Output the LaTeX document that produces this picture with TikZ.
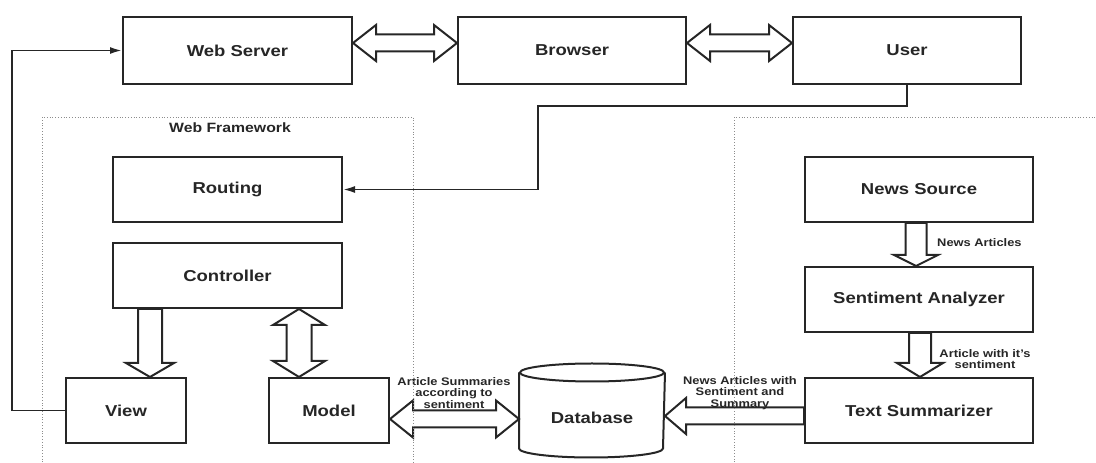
\documentclass[tikz,border=0pt]{standalone}
\usepackage{fontspec}
\setmainfont{Liberation Sans}[FakeStretch=1.17]
\usetikzlibrary{calc, arrows.meta}

% hollow block arrows between two points: shaft half width, head half width, head length
\newcommand{\fatarrow}[5]{%
  \draw[blockarrow] let \p1=#1, \p2=#2,
      \n1={veclen(\x2-\x1,\y2-\y1)}, \n2={atan2(\y2-\y1,\x2-\x1)} in
    [shift={(\p1)}, rotate=\n2]
    (0,#3) -- ({\n1-#5},#3) -- ({\n1-#5},#4) -- (\n1,0)
    -- ({\n1-#5},-#4) -- ({\n1-#5},-#3) -- (0,-#3) -- cycle;}
\newcommand{\fatarrows}[5]{%
  \draw[blockarrow] let \p1=#1, \p2=#2,
      \n1={veclen(\x2-\x1,\y2-\y1)}, \n2={atan2(\y2-\y1,\x2-\x1)} in
    [shift={(\p1)}, rotate=\n2]
    (0,0) -- (#5,#4) -- (#5,#3) -- ({\n1-#5},#3) -- ({\n1-#5},#4) -- (\n1,0)
    -- ({\n1-#5},-#4) -- ({\n1-#5},-#3) -- (#5,-#3) -- (#5,-#4) -- cycle;}

\tikzset{
  box/.style={draw=black!85, line width=2pt, minimum width=229pt, minimum height=65pt,
    inner sep=0pt, text=black!85, font=\fontsize{15.8}{19}\selectfont\bfseries},
  smallbox/.style={box, minimum width=120pt},
  note/.style={align=center, inner sep=0pt, text=black!85,
    font=\fontsize{11}{11.6}\selectfont\bfseries},
  link/.style={draw=black!85, line width=1.9pt, -{Latex[length=12pt,width=7pt]}},
  blockarrow/.style={draw=black!85, line width=2pt, fill=white, line join=miter},
  frame/.style={draw=black!45, dotted, line width=0.8pt},
}

\begin{document}
\begin{tikzpicture}[x=1pt, y=1pt]
    \useasboundingbox (0,0) rectangle (1096,463);

    % Top row
    \node[box, minimum height=67pt] (server) at (237.5,412.5) {Web Server};
    \node[box, minimum height=67pt, minimum width=228pt] (browser) at (572,412.5) {Browser};
    \node[box, minimum height=67pt, minimum width=228pt] (user) at (907,412.5) {User};
    \fatarrows{($(server.east)+(0,7.5)$)}{($(browser.west)+(0,7.5)$)}{8.5}{18}{23}
    \fatarrows{($(browser.east)+(0,7.5)$)}{($(user.west)+(0,7.5)$)}{8.5}{18}{23}

    % Web framework
    \node[text=black!85, font=\fontsize{13.5}{16}\selectfont\bfseries] (wflabel) at (230,335) {Web Framework};
    \node[box] (routing) at (227.5,273.5) {Routing};
    \node[box] (controller) at (227.5,187.5) {Controller};
    \node[smallbox] (view) at (126,52.5) {View};
    \node[smallbox] (model) at (329,52.5) {Model};
    \coordinate (vtop) at ($(view.north)+(24,0)$);
    \coordinate (mtop) at ($(model.north)+(-30,0)$);
    \fatarrow{(controller.south -| vtop)}{(vtop)}{12}{24}{14}
    \fatarrows{(controller.south -| mtop)}{(mtop)}{12.5}{26}{16}

    % Database
    \node[box, draw=none, minimum width=144pt, minimum height=74pt, text height=25.5pt, text depth=0pt] (db) at (592,52.5) {Database};
    \draw[blockarrow, fill=none] (db.north west) -- (db.south west)
        arc[start angle=180, end angle=360, x radius=72pt, y radius=9pt] -- (db.north east);
    \draw[blockarrow, fill=none] (db.north) ellipse [x radius=72pt, y radius=9pt];

    % News pipeline
    \node[box, minimum width=228pt] (source) at (919,273.5) {News Source};
    \node[box, minimum width=228pt] (analyzer) at (919,163.5) {Sentiment Analyzer};
    \node[box, minimum width=228pt] (summarizer) at (919,52.5) {Text Summarizer};
    \fatarrow{($(source.south)+(-3,0)$)}{($(analyzer.north)+(-3,0)$)}{10.5}{22}{11}
    \fatarrow{($(analyzer.south)+(1,0)$)}{($(summarizer.north)+(1,0)$)}{11}{23}{14}
    \node[note, anchor=west] (articles) at (937,220) {News Articles};
    \node[note] (withsentiment) at (985,104) {Article with it's\\sentiment};

    % Storage
    \fatarrows{($(model.east)+(0,-8.5)$)}{($(db.west)+(0,-8.5)$)}{8.5}{18.5}{23}
    \fatarrow{($(summarizer.west)+(0,-5.5)$)}{($(db.east)+(0,-5.5)$)}{8.5}{18}{21}
    \node[note] (summaries) at (454,70) {Article Summaries\\according to\\sentiment};
    \node[note] (stored) at (740,70) {News Articles with\\Sentiment and\\Summary};

    % Request and response lines
    \coordinate (bend) at (538,357);
    \draw[link] (user.south) |- (bend) |- (routing.east);
    \draw[link] (view.west) -- ++(-53,0) |- (server.west);

    % Dotted frames
    \draw[frame] (42,-2) |- (413,346) -- (413,-2);
    \draw[frame] (734,-2) |- (1098,346);
\end{tikzpicture}
\end{document}
